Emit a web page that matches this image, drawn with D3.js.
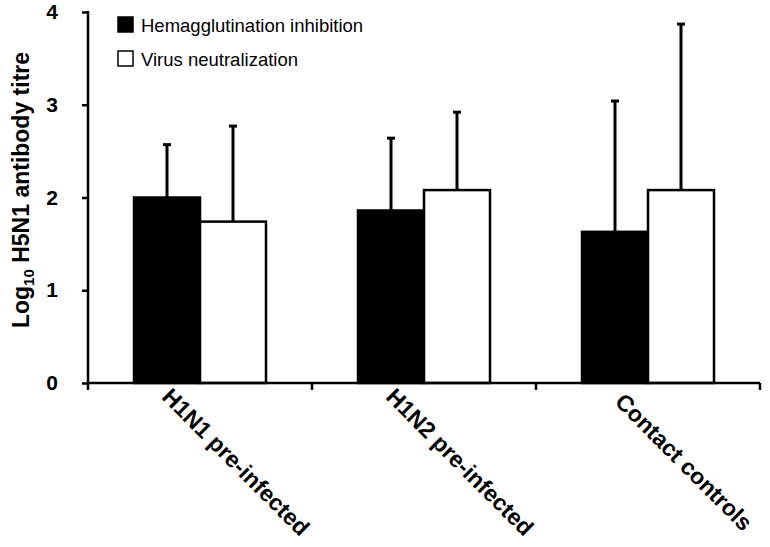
<!DOCTYPE html>
<html>
<head>
<meta charset="utf-8">
<script src="https://cdn.jsdelivr.net/npm/d3@7"></script>
<style>
  body { margin: 0; background: #fff; }
  svg { display: block; font-family: "Liberation Sans", Arial, sans-serif; }
</style>
</head>
<body>
<svg width="770" height="547"></svg>
<script>
const categories = ["H1N1 pre-infected", "H1N2 pre-infected", "Contact controls"];
const series = ["Hemagglutination inhibition", "Virus neutralization"];
const hiValues = [2.00, 1.86, 1.63];
const hiErrors = [0.57, 0.78, 1.41];
const vnValues = [1.74, 2.08, 2.08];
const vnErrors = [1.03, 0.84, 1.79];
const yTicks = [0, 1, 2, 3, 4];

const svg = d3.select("svg");
const fills = ["#000", "#fff"];

let rows = [];
categories.forEach((c, i) => {
    rows.push({cat: c, s: 0, v: hiValues[i], e: hiErrors[i]});
    rows.push({cat: c, s: 1, v: vnValues[i], e: vnErrors[i]});
});

let y = d3.scaleLinear().domain([0, 4]).range([383, 12]);
let x0 = d3.scaleBand().domain(categories).range([88, 760]);
let x1 = d3.scaleBand().domain([0, 1]).range([46, 178]);

// y axis
let yAxis = svg.append("g")
    .attr("transform", "translate(88,0)")
    .call(d3.axisLeft(y).tickValues(yTicks).tickFormat(d3.format("d")).tickSize(6).tickPadding(24).tickSizeOuter(0));
yAxis.select(".domain").attr("stroke-width", 2.5).attr("d", "M0,11V390");
yAxis.selectAll(".tick line").attr("stroke-width", 2.5);
yAxis.selectAll(".tick text")
    .attr("font-size", 21).attr("font-weight", "bold")
    .attr("font-family", "Liberation Sans, Arial, sans-serif");

// bars
svg.append("g").selectAll("rect")
    .data(rows)
    .enter().append("rect")
    .attr("x", d => x0(d.cat) + x1(d.s))
    .attr("y", d => y(d.v))
    .attr("width", x1.bandwidth())
    .attr("height", d => y(0) - y(d.v))
    .attr("fill", d => fills[d.s])
    .attr("stroke", "#000")
    .attr("stroke-width", 2.5);

// error bars (upper only)
let err = svg.append("g").attr("stroke", "#000").attr("stroke-width", 3);
err.selectAll("line.stem")
    .data(rows)
    .enter().append("line")
    .attr("class", "stem")
    .attr("x1", d => x0(d.cat) + x1(d.s) + x1.bandwidth() / 2)
    .attr("x2", d => x0(d.cat) + x1(d.s) + x1.bandwidth() / 2)
    .attr("y1", d => y(d.v))
    .attr("y2", d => y(d.v + d.e));
err.selectAll("line.cap")
    .data(rows)
    .enter().append("line")
    .attr("class", "cap")
    .attr("x1", d => x0(d.cat) + x1(d.s) + x1.bandwidth() / 2 - 4)
    .attr("x2", d => x0(d.cat) + x1(d.s) + x1.bandwidth() / 2 + 4)
    .attr("y1", d => y(d.v + d.e))
    .attr("y2", d => y(d.v + d.e));

// x axis
let xAxis = svg.append("g")
    .attr("transform", "translate(0,383)")
    .call(d3.axisBottom(x0).tickSize(0).tickFormat(""));
xAxis.select(".domain").attr("stroke-width", 2.5).attr("d", "M88,0H760");
xAxis.selectAll(".tick").remove();
xAxis.selectAll("line.bound")
    .data(categories)
    .enter().append("line")
    .attr("class", "bound")
    .attr("x1", d => x0(d) + x0.bandwidth())
    .attr("x2", d => x0(d) + x0.bandwidth())
    .attr("y1", 0).attr("y2", 7)
    .attr("stroke", "#000").attr("stroke-width", 2.5);

svg.append("g").selectAll("text")
    .data(categories)
    .enter().append("text")
    .attr("transform", d => `translate(${x0(d) + x0.bandwidth() / 2 + 36},462) rotate(45)`)
    .attr("text-anchor", "middle")
    .attr("dy", "0.35em")
    .attr("font-size", 23)
    .attr("font-weight", "bold")
    .text(d => d);

// y label
let yl = svg.append("text")
    .attr("transform", "translate(29,190) rotate(-90)")
    .attr("text-anchor", "middle")
    .attr("font-size", 23)
    .attr("font-weight", "bold");
yl.append("tspan").text("Log");
yl.append("tspan").attr("font-size", 15).attr("dy", 5).text("10");
yl.append("tspan").attr("dy", -5).text(" H5N1 antibody titre");

// legend
let legend = svg.append("g").selectAll("g")
    .data(series)
    .enter().append("g")
    .attr("transform", (d, i) => `translate(118,${17 + i * 34})`);
legend.append("rect")
    .attr("width", 15).attr("height", 15)
    .attr("fill", (d, i) => fills[i])
    .attr("stroke", "#000").attr("stroke-width", 1.5);
legend.append("text")
    .attr("x", 23).attr("y", 15)
    .attr("font-size", 18.5)
    .text(d => d);
</script>
</body>
</html>
